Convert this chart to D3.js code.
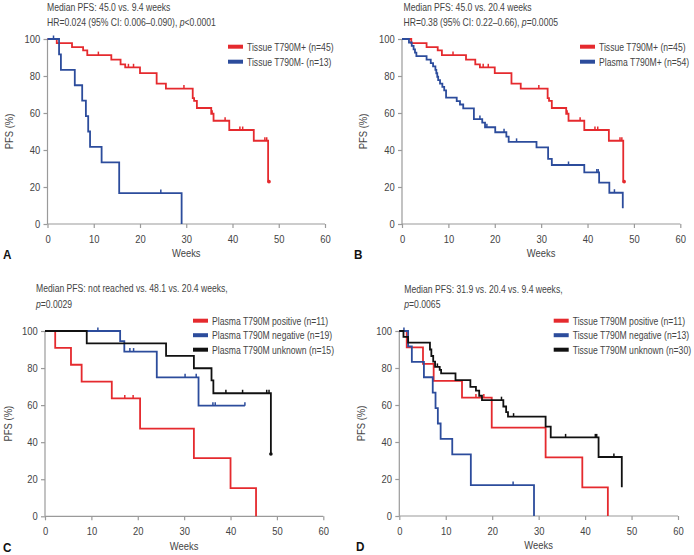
<!DOCTYPE html>
<html><head><meta charset="utf-8">
<script src="https://cdn.jsdelivr.net/npm/d3@7/dist/d3.min.js"></script>
<style>
body{margin:0;background:#fff}
svg text{font-family:"Liberation Sans",Arial,sans-serif;}
</style></head><body>
<svg id="c" width="694" height="555"></svg>
<script>
// ---------- axis ticks ----------
const weekTicks = [0,10,20,30,40,50,60];
const pfsTicks = [0,20,40,60,80,100];

// ---------- Tissue T790M+ (n=45), panels A and B ----------
const tissuePosTimes = [0,2.0,5.3,7.7,8.6,13.8,15.8,16.8,20.0,23.6,25.6,31.4,31.7,32.3,35.4,35.9,39.3,44.6,47.7,47.9];
const tissuePosSurv  = [100,97.8,95.6,93.9,91.3,88.8,86.3,84.7,81.6,75.9,73.2,68.0,66.6,62.7,59.6,55.8,50.8,45.0,22.9,22.9];
const tissuePosCensor = [11.0,17.5,18.6,29.5,35.6,38.4,41.6,42.2,47.0,47.4];
const tissuePosDot = [[47.9,22.9]];

// ---------- Tissue T790M- (n=13), panel A ----------
const tissueNegTimesA = [0,2.5,2.9,5.9,7.5,8.3,8.8,9.2,11.7,15.5,29.0];
const tissueNegSurvA  = [100,91.7,83.3,75.0,66.7,58.3,50.0,41.7,33.3,16.7,0];
const tissueNegCensorA = [1.3,24.5];

// ---------- Plasma T790M+ (n=54), panel B ----------
const plasmaPosTimesB = [0,1.5,2.1,2.5,2.8,3.1,5.3,6.2,6.7,7.2,7.4,7.6,7.8,8.2,8.7,9.1,9.5,11.8,12.5,13.2,15.5,17.3,17.9,20.1,22.5,23.0,29.0,31.5,32.3,39.3,42.5,44.7,47.6];
const plasmaPosSurvB  = [100,98.1,96.3,94.4,92.6,90.7,88.9,87.0,85.2,83.3,81.5,79.6,77.8,75.9,74.1,72.2,68.3,66.4,64.6,62.5,56.7,54.8,52.3,49.6,47.2,44.4,41.4,35.2,31.9,27.9,22.4,16.9,8.5];
const plasmaPosCensorB = [16.8,18.3,22.0,24.7,35.9,42.0,42.3,45.8];

// ---------- Panel C: plasma groups ----------
const plasmaPosTimesC = [0,2.2,5.6,7.9,14.4,20.5,32.1,40.0,45.5];
const plasmaPosSurvC  = [100,90.9,81.8,72.7,63.6,47.3,31.4,15.2,0];
const plasmaPosCensorC = [17.2,19.0];

const plasmaNegTimesC = [0,16.2,17.1,24.1,33.1,43.1];
const plasmaNegSurvC  = [100,94.5,88.9,75.0,59.7,59.7];
const plasmaNegCensorC = [11.4,18.3,19.1,30.2,32.6,36.2,36.7,43.1];

const plasmaUnkTimesC = [0,9.0,26.1,32.1,35.9,36.3,48.7];
const plasmaUnkSurvC  = [100,93.3,86.6,79.9,73.4,66.4,33.6];
const plasmaUnkCensorC = [39.0,42.6,47.8,48.3];
const plasmaUnkDot = [[48.7,33.6]];

// ---------- Panel D: tissue groups ----------
const tissuePosTimesD = [0,1.6,5.1,7.4,13.5,19.9,31.5,39.4,44.9];
const tissuePosSurvD  = [100,91.2,82.2,73.0,64.0,47.8,31.7,15.5,0];
const tissuePosCensorD = [16.5,18.2];

const tissueNegTimesD = [0,1.9,2.7,5.3,7.2,7.8,8.3,8.9,11.4,15.4,29.0];
const tissueNegSurvD  = [100,91.7,83.3,75.0,66.7,58.3,50.0,41.7,33.3,16.7,0];
const tissueNegCensorD = [1.0,24.5];

const tissueUnkTimesD = [0,0.9,1.9,6.6,6.9,7.3,7.7,8.7,9.0,12.1,15.3,16.5,17.2,17.8,22.4,23.0,23.4,31.5,32.6,42.9,47.9];
const tissueUnkSurvD  = [100,96.8,93.7,90.0,86.5,83.4,80.6,79.0,77.1,73.4,69.8,67.8,65.0,62.6,59.2,56.2,53.7,48.3,42.5,31.9,15.5];
const tissueUnkCensorD = [8.2,22.0,24.6,35.8,42.2,42.5,46.2];

// ---------- texts ----------
const titlesA = ["Median PFS: 45.0 vs. 9.4 weeks", ["HR=0.024 (95% CI: 0.006\u20130.090), ","p","<0.0001"]];
const titlesB = ["Median PFS: 45.0 vs. 20.4 weeks", ["HR=0.38 (95% CI: 0.22\u20130.66), ","p","=0.0005"]];
const titlesC = ["Median PFS: not reached vs. 48.1 vs. 20.4 weeks,", ["","p","=0.0029"]];
const titlesD = ["Median PFS: 31.9 vs. 20.4 vs. 9.4 weeks,", ["","p","=0.0065"]];
const legendA = ["Tissue T790M+ (n=45)","Tissue T790M- (n=13)"];
const legendB = ["Tissue T790M+ (n=45)","Plasma T790M+ (n=54)"];
const legendC = ["Plasma T790M positive (n=11)","Plasma T790M negative (n=19)","Plasma T790M unknown (n=15)"];
const legendD = ["Tissue T790M positive (n=11)","Tissue T790M negative (n=13)","Tissue T790M unknown (n=30)"];

const RED = "#e52a2e", BLUE = "#2c4c9c", BLACK = "#111111";
const SX = 0.82; // narrow (condensed) face emulation
const svg = d3.select("#c");

function zip(t, s){ return t.map((v,i)=>[v, s[i]]); }
function survAt(t, s, w){ let v = s[0]; for(let i=0;i<t.length;i++){ if(t[i] <= w) v = s[i]; } return v; }
function txt(g, x, y, size, opts){
  const o = opts || {};
  return g.append("text")
    .attr("transform", `translate(${x},${y})${o.rot ? " rotate(" + o.rot + ")" : ""} scale(${o.sx || SX},1)`)
    .attr("text-anchor", o.anchor || "start").attr("dominant-baseline","central")
    .attr("fill", o.fill || "#444").style("font-size", size + "px")
    .style("font-weight", o.bold ? "bold" : "normal");
}

const panels = [
  {letter:"A", x0:47.5, x1:325, yT:39, yB:224, titleX:47, titleY:[7,22], legX:228, legY:[46.7,61.7], titles:titlesA, legend:legendA, letterX:3, ylabX:9,
   series:[
     {t:tissuePosTimes, s:tissuePosSurv, c:tissuePosCensor, dot:tissuePosDot, col:RED},
     {t:tissueNegTimesA, s:tissueNegSurvA, c:tissueNegCensorA, dot:[], col:BLUE}]},
  {letter:"B", x0:402, x1:680.3, yT:39, yB:224, titleX:403.5, titleY:[7,22], legX:580, legY:[46.7,61.7], titles:titlesB, legend:legendB, letterX:354, ylabX:363,
   series:[
     {t:tissuePosTimes, s:tissuePosSurv, c:tissuePosCensor, dot:tissuePosDot, col:RED},
     {t:plasmaPosTimesB, s:plasmaPosSurvB, c:plasmaPosCensorB, dot:[], col:BLUE}]},
  {letter:"C", x0:45, x1:323.3, yT:331, yB:516.3, titleX:36, titleY:[288.5,303.5], legX:193, legY:[320.7,335.2,349.7], titles:titlesC, legend:legendC, letterX:3, ylabX:8,
   series:[
     {t:plasmaPosTimesC, s:plasmaPosSurvC, c:plasmaPosCensorC, dot:[], col:RED},
     {t:plasmaNegTimesC, s:plasmaNegSurvC, c:plasmaNegCensorC, dot:[], col:BLUE},
     {t:plasmaUnkTimesC, s:plasmaUnkSurvC, c:plasmaUnkCensorC, dot:plasmaUnkDot, col:BLACK}]},
  {letter:"D", x0:399.3, x1:678, yT:331, yB:516, titleX:404.3, titleY:[289,303.5], legX:553.7, legY:[320.7,335.2,349.7], titles:titlesD, legend:legendD, letterX:356, ylabX:361,
   series:[
     {t:tissuePosTimesD, s:tissuePosSurvD, c:tissuePosCensorD, dot:[], col:RED},
     {t:tissueNegTimesD, s:tissueNegSurvD, c:tissueNegCensorD, dot:[], col:BLUE},
     {t:tissueUnkTimesD, s:tissueUnkSurvD, c:tissueUnkCensorD, dot:[], col:BLACK}]}
];
const legCols3 = [RED, BLUE, BLACK];

panels.forEach(p => {
  const x = d3.scaleLinear().domain([0,60]).range([p.x0, p.x1]);
  const y = d3.scaleLinear().domain([0,100]).range([p.yB, p.yT]);
  const g = svg.append("g");

  // axes
  const xAxis = g.append("g").attr("transform", `translate(0,${p.yB})`)
    .call(d3.axisBottom(x).tickValues(weekTicks).tickSize(4).tickPadding(7));
  const yAxis = g.append("g").attr("transform", `translate(${p.x0},0)`)
    .call(d3.axisLeft(y).tickValues(pfsTicks).tickSize(4).tickPadding(5));
  [xAxis, yAxis].forEach(a => {
    a.select(".domain").attr("stroke", "#9a9a9a").attr("stroke-width", 1.2);
    a.selectAll(".tick line").attr("stroke", "#9a9a9a").attr("stroke-width", 1.2);
    a.selectAll(".tick text").attr("fill", "#444").style("font-size", "11.5px")
      .style("font-family", '"Liberation Sans",Arial,sans-serif').attr("transform", `scale(${SX},1)`);
  });
  xAxis.select(".domain").attr("d", `M${p.x0},0H${p.x1}`);
  yAxis.select(".domain").attr("d", `M0,${p.yB}V${p.yT}`);

  // labels
  txt(g, (p.x0+p.x1)/2, p.yB+29, 11.5, {anchor:"middle"}).text("Weeks");
  txt(g, p.ylabX, (p.yT+p.yB)/2, 11.5, {anchor:"middle", rot:-90}).text("PFS (%)");
  txt(g, p.letterX, p.yB+31, 13, {bold:true, fill:"#111", sx:0.9}).text(p.letter);

  // titles
  txt(g, p.titleX, p.titleY[0], 10.5).text(p.titles[0]);
  const t2 = txt(g, p.titleX, p.titleY[1], 10.5);
  t2.append("tspan").text(p.titles[1][0]);
  t2.append("tspan").style("font-style","italic").text(p.titles[1][1]);
  t2.append("tspan").text(p.titles[1][2]);

  // legend
  p.legend.forEach((lab, i) => {
    const col = p.series.length === 2 ? [RED, BLUE][i] : legCols3[i];
    g.append("line").attr("x1", p.legX).attr("x2", p.legX+15).attr("y1", p.legY[i]).attr("y2", p.legY[i])
      .attr("stroke", col).attr("stroke-width", 4);
    txt(g, p.legX+19, p.legY[i], 10.5).text(lab);
  });

  // curves
  const line = d3.line().x(d => x(d[0])).y(d => y(d[1])).curve(d3.curveStepAfter);
  p.series.forEach(s => {
    g.append("path").datum(zip(s.t, s.s)).attr("d", line).attr("fill","none")
      .attr("stroke", s.col).attr("stroke-width", 1.8);
    g.selectAll(null).data(s.c).enter().append("line")
      .attr("x1", d => x(d)).attr("x2", d => x(d))
      .attr("y1", d => y(survAt(s.t, s.s, d)) - 3.5).attr("y2", d => y(survAt(s.t, s.s, d)))
      .attr("stroke", s.col).attr("stroke-width", 1.5);
    g.selectAll(null).data(s.dot).enter().append("circle")
      .attr("cx", d => x(d[0])).attr("cy", d => y(d[1])).attr("r", 1.8).attr("fill", s.col);
  });
});
</script>
</body></html>
